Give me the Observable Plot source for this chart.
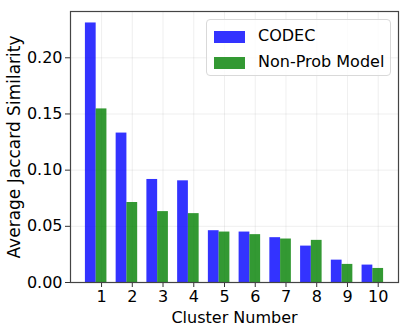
<!DOCTYPE html>
<html>
<head>
<meta charset="utf-8">
<script src="https://cdn.jsdelivr.net/npm/d3@7"></script>
<script src="https://cdn.jsdelivr.net/npm/@observablehq/plot@0.6"></script>
<style>
  html, body { margin: 0; padding: 0; background: #fff; }
  #wrap { position: relative; width: 408px; height: 326px; font-family: "DejaVu Sans", sans-serif; }
  #legend { position: absolute; left: 206px; top: 19px; width: 183px; height: 55px;
    border: 1px solid #d9d9d9; border-radius: 4px; background: rgba(255,255,255,0.8); box-sizing: content-box; }
  .item { position: absolute; left: 7px; font-size: 16px; color: #000; line-height: 16px; }
  .sw { display: inline-block; width: 31px; height: 12px; vertical-align: middle; margin-right: 13px; }
</style>
</head>
<body>
<div id="wrap"></div>
<script>
const clusters = [1, 2, 3, 4, 5, 6, 7, 8, 9, 10];
const codec = [0.231, 0.133, 0.0917, 0.0905, 0.0461, 0.0449, 0.0399, 0.0324, 0.0199, 0.0155];
const nonProb = [0.1545, 0.0712, 0.0631, 0.0613, 0.0449, 0.0426, 0.0387, 0.0375, 0.0161, 0.0125];
const seriesNames = ["CODEC", "Non-Prob Model"];
const seriesColors = ["rgba(0,0,255,0.8)", "rgba(0,128,0,0.8)"];
const yTicks = [0, 0.05, 0.10, 0.15, 0.20];

const barW = 0.35;
const rows = [];
clusters.forEach((c, i) => {
  rows.push({i, s: seriesNames[0], x1: i - barW / 2, x2: i + barW / 2, v: codec[i]});
  rows.push({i, s: seriesNames[1], x1: i + barW / 2, x2: i + 1.5 * barW, v: nonProb[i]});
});
const tickPos = clusters.map((c, i) => i + barW);

const chart = Plot.plot({
  width: 408,
  height: 326,
  marginLeft: 70,
  marginRight: 10,
  marginTop: 11,
  marginBottom: 44,
  style: { fontFamily: "DejaVu Sans, sans-serif", background: "#fff", color: "#000" },
  x: { type: "linear", domain: [-0.66, 10.01] },
  y: { domain: [0, 0.2412] },
  color: { domain: seriesNames, range: seriesColors },
  marks: [
    Plot.gridX(tickPos, { stroke: "#b0b0b0", strokeOpacity: 0.25, strokeWidth: 0.8 }),
    Plot.gridY(yTicks, { stroke: "#b0b0b0", strokeOpacity: 0.25, strokeWidth: 0.8 }),
    Plot.rectY(rows, { x1: "x1", x2: "x2", y1: 0, y2: "v", fill: "s", insetLeft: 0, insetRight: 0 }),
    Plot.axisY(yTicks, { tickFormat: ".2f", fontSize: 16, tickSize: 5, tickPadding: 3, stroke: "#333",
      label: "Average Jaccard Similarity", labelAnchor: "center", labelArrow: "none", labelOffset: 63 }),
    Plot.axisX(tickPos, { tickFormat: (d) => clusters[Math.round(d - barW)], fontSize: 16, tickSize: 5, tickPadding: 3, stroke: "#333",
      label: "Cluster Number", labelAnchor: "center", labelArrow: "none", labelOffset: 40 }),
    Plot.frame({ stroke: "#444", strokeWidth: 1.2 })
  ]
});
chart.querySelectorAll("g[aria-label='x-axis label'] text").forEach(t => t.setAttribute("font-size", "16"));
chart.querySelectorAll("g[aria-label='y-axis label'] text").forEach(t => t.setAttribute("font-size", "17"));
const wrap = document.getElementById("wrap");
wrap.appendChild(chart);

const legend = document.createElement("div");
legend.id = "legend";
seriesNames.forEach((name, k) => {
  const it = document.createElement("div");
  it.className = "item";
  it.style.top = (k === 0 ? 8 : 34) + "px";
  const sw = document.createElement("span");
  sw.className = "sw";
  sw.style.background = seriesColors[k];
  it.appendChild(sw);
  it.appendChild(document.createTextNode(name));
  legend.appendChild(it);
});
wrap.appendChild(legend);
</script>
</body>
</html>
